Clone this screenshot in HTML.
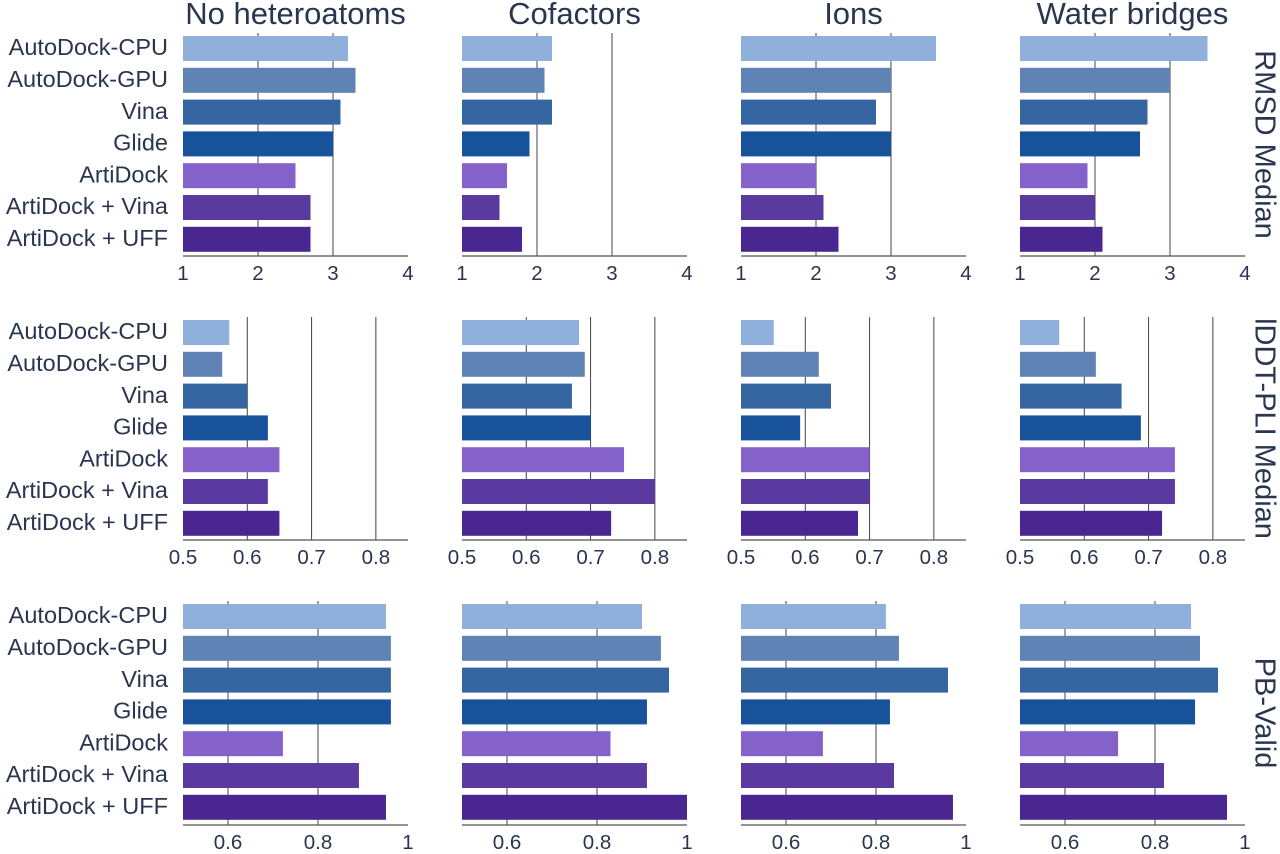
<!DOCTYPE html>
<html><head><meta charset="utf-8"><style>
html,body{margin:0;padding:0;background:#fff;}
svg{display:block;font-family:"Liberation Sans",sans-serif;}
</style></head><body>
<svg id="chart" width="1280" height="854" viewBox="0 0 1280 854"></svg>
<script>
const methods = ["AutoDock-CPU","AutoDock-GPU","Vina","Glide","ArtiDock","ArtiDock + Vina","ArtiDock + UFF"];
const colors = ["#8eb0db","#5f83b4","#3566a1","#17529b","#8462c9","#5a3a9f","#4a2790"];
const columnTitles = ["No heteroatoms","Cofactors","Ions","Water bridges"];
const rowTitles = ["RMSD Median","lDDT-PLI Median","PB-Valid"];
const rmsdNoHetero = [3.2,3.3,3.1,3.0,2.5,2.7,2.7];
const rmsdCofactors = [2.2,2.1,2.2,1.9,1.6,1.5,1.8];
const rmsdIons = [3.6,3.0,2.8,3.0,2.0,2.1,2.3];
const rmsdWater = [3.5,3.0,2.7,2.6,1.9,2.0,2.1];
const lddtNoHetero = [0.572,0.561,0.600,0.632,0.650,0.632,0.650];
const lddtCofactors = [0.682,0.691,0.671,0.700,0.752,0.800,0.732];
const lddtIons = [0.551,0.621,0.640,0.592,0.700,0.700,0.682];
const lddtWater = [0.561,0.618,0.658,0.688,0.741,0.741,0.721];
const pbNoHetero = [0.951,0.962,0.962,0.962,0.722,0.891,0.951];
const pbCofactors = [0.900,0.942,0.960,0.911,0.830,0.911,1.0];
const pbIons = [0.822,0.851,0.960,0.831,0.682,0.840,0.971];
const pbWater = [0.880,0.900,0.940,0.889,0.718,0.820,0.960];
const rmsdTicks = [1,2,3,4];
const lddtTicks = [0.5,0.6,0.7,0.8];
const pbTicks = [0.6,0.8,1];
const rows = [
  {vals:[rmsdNoHetero,rmsdCofactors,rmsdIons,rmsdWater], min:1, max:4, ticks:rmsdTicks, labels:["1","2","3","4"], grid:[2,3]},
  {vals:[lddtNoHetero,lddtCofactors,lddtIons,lddtWater], min:0.5, max:0.85, ticks:lddtTicks, labels:["0.5","0.6","0.7","0.8"], grid:[0.6,0.7,0.8]},
  {vals:[pbNoHetero,pbCofactors,pbIons,pbWater], min:0.5, max:1.0, ticks:pbTicks, labels:["0.6","0.8","1"], grid:[0.6,0.8]}
];
const svg = document.getElementById('chart');
const NS = "http://www.w3.org/2000/svg";
function mk(tag, attrs){const e=document.createElementNS(NS,tag);for(const k in attrs)e.setAttribute(k,attrs[k]);svg.appendChild(e);return e;}
const colX = [183,462,741,1020], plotW = 225;
const rowTop = [33,317,601], rowAxis = [256,540,825];
const txt = "#2a3550";
columnTitles.forEach((t,c)=>{
  const e=mk('text',{x:colX[c]+plotW/2,y:24,'text-anchor':'middle','font-size':31,fill:txt});
  e.textContent=t;
  
  
});
rowTitles.forEach((t,r)=>{
  const cy=(rowTop[r]+rowAxis[r])/2;
  const e=mk('text',{x:1263,y:cy,'text-anchor':'middle','font-size':29,fill:txt,transform:`rotate(90 1263 ${cy})`,'dominant-baseline':'middle'});
  e.textContent=t;
  
  
});
rows.forEach((row,r)=>{
  const sx=(c,v)=>colX[c]+(v-row.min)/(row.max-row.min)*plotW;
  const sy=i=>rowTop[r]+3+i*31.8;
  methods.forEach((m,i)=>{
    const e=mk('text',{x:168,y:sy(i)+13,'text-anchor':'end','dominant-baseline':'middle','font-size':23.5,fill:txt});
    e.textContent=m;
    
    
  });
  for(let c=0;c<4;c++){
    row.grid.forEach(g=>{
      const x=sx(c,g);
      const l=mk('line',{x1:x,x2:x,y1:rowTop[r],y2:rowAxis[r],stroke:'#444',"stroke-width":1});
      
      
    });
    row.vals[c].forEach((v,i)=>{
      const b=mk('rect',{x:colX[c],y:sy(i),width:Math.max(0,sx(c,v)-colX[c]),height:25,fill:colors[i]});
      
      
    });
    const a=mk('line',{x1:colX[c],x2:colX[c]+plotW,y1:rowAxis[r],y2:rowAxis[r],stroke:'#555',"stroke-width":1.2});
    
    
    row.ticks.forEach((t,k)=>{
      const e=mk('text',{x:sx(c,t),y:rowAxis[r]+24,'text-anchor':'middle','font-size':20.5,fill:txt});
      e.textContent=row.labels[k];
      
      
    });
  }
});
</script>
</body></html>
